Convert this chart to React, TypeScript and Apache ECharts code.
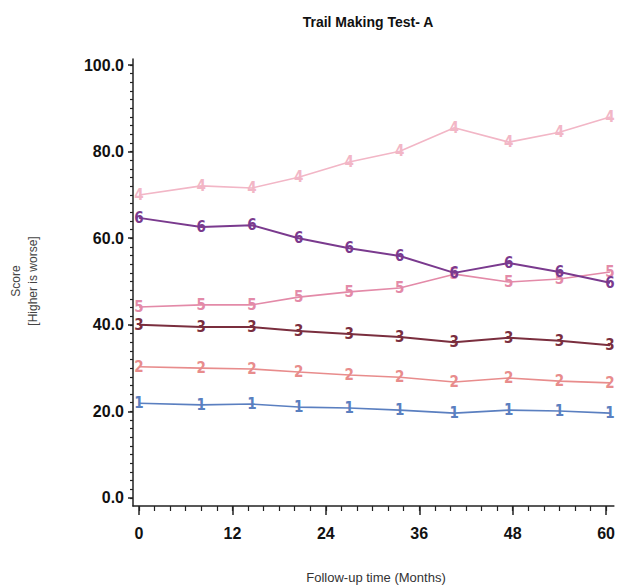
import React, { useEffect, useRef } from "react";
import * as echarts from "echarts";

const months = [0, 8, 14.5, 20.5, 27, 33.5, 40.5, 47.5, 54, 60.5];
const group1 = [21.9, 21.5, 21.7, 21.0, 20.8, 20.3, 19.6, 20.3, 20.1, 19.6];
const group2 = [30.3, 30.0, 29.8, 29.1, 28.4, 27.9, 26.8, 27.7, 27.0, 26.6];
const group3 = [40.0, 39.5, 39.5, 38.6, 37.9, 37.2, 36.0, 37.0, 36.3, 35.3];
const group4 = [70.0, 72.1, 71.6, 74.1, 77.6, 80.1, 85.5, 82.2, 84.5, 88.0];
const group5 = [44.1, 44.6, 44.6, 46.4, 47.6, 48.5, 51.7, 49.9, 50.6, 52.2];
const group6 = [64.7, 62.6, 63.0, 60.0, 57.7, 55.9, 52.0, 54.3, 52.2, 49.7];
const groupLabels = ["1", "2", "3", "4", "5", "6"];
const groupColors = ["#5a7fc0", "#e88c8c", "#7a2e3e", "#f2b6c6", "#e38aa8", "#7a3a8e"];
const yMajor = [0, 20, 40, 60, 80, 100];
const xMajor = [0, 12, 24, 36, 48, 60];

export default function App() {
  const ref = useRef<HTMLDivElement>(null);
  useEffect(() => {
    if (!ref.current) return;
    const chart = echarts.init(ref.current, null, { renderer: "svg" });
    const groups = [group1, group2, group3, group4, group5, group6];
    const yMinor: number[] = [];
    for (let v = 0; v <= 100; v += 2) yMinor.push(v);
    const xMinor: number[] = [];
    for (let v = 0; v <= 60; v += 2) xMinor.push(v);
    const font = "Liberation Sans";
    const series: any[] = groups.map((g, i) => ({
      type: "line",
      name: groupLabels[i],
      xAxisIndex: 0,
      yAxisIndex: 0,
      data: g.map((v, j) => [months[j], v]),
      symbol: "circle",
      symbolSize: 8,
      itemStyle: { color: "rgba(0,0,0,0)", borderWidth: 0 },
      lineStyle: { color: groupColors[i], width: i === 5 || i === 2 ? 2 : 1.6 },
      label: {
        show: true,
        position: "inside",
        formatter: groupLabels[i],
        color: groupColors[i],
        fontSize: 15,
        fontFamily: "DejaVu Sans Condensed",
        fontWeight: "bold",
      },
      labelLayout: { hideOverlap: false },
      z: 2 + i,
    }));
    chart.setOption({
      animation: false,
      grid: { left: 133, right: 1, top: 59, bottom: 82, containLabel: false },
      xAxis: [
        {
          type: "value",
          position: "bottom",
          min: -0.77,
          max: 61,
          axisLine: { show: true, onZero: false, lineStyle: { color: "#222", width: 1.5 } },
          axisTick: { show: true, customValues: xMajor, length: 9, lineStyle: { color: "#222", width: 1.5 } },
          axisLabel: { customValues: xMajor, margin: 19, color: "#111", fontSize: 16, fontWeight: "bold", fontFamily: font },
          splitLine: { show: false },
        },
        {
          type: "value",
          position: "bottom",
          min: -0.77,
          max: 61,
          axisLine: { show: false, onZero: false },
          axisTick: { show: true, customValues: xMinor, length: 5, lineStyle: { color: "#222", width: 1.2 } },
          axisLabel: { show: false },
          splitLine: { show: false },
        },
      ],
      yAxis: [
        {
          type: "value",
          position: "left",
          min: -1.85,
          max: 101.4,
          axisLine: { show: true, onZero: false, lineStyle: { color: "#222", width: 1.5 } },
          axisTick: { show: true, customValues: yMajor, length: 5, lineStyle: { color: "#222", width: 1.5 } },
          axisLabel: {
            customValues: yMajor,
            margin: 9,
            color: "#111",
            fontSize: 16,
            fontWeight: "bold",
            fontFamily: font,
            formatter: (v: number) => v.toFixed(1),
          },
          splitLine: { show: false },
        },
        {
          type: "value",
          position: "left",
          min: -1.85,
          max: 101.4,
          axisLine: { show: false, onZero: false },
          axisTick: { show: true, customValues: yMinor, length: 3, lineStyle: { color: "#222", width: 1.2 } },
          axisLabel: { show: false },
          splitLine: { show: false },
        },
      ],
      series,
      graphic: [
        {
          type: "text",
          x: 368,
          y: 22,
          style: {
            text: "Trail Making Test- A",
            fontSize: 14,
            fontWeight: "bold",
            fontFamily: font,
            fill: "#111",
            align: "center",
            verticalAlign: "middle",
          },
        },
        {
          type: "text",
          x: 376,
          y: 577,
          style: {
            text: "Follow-up time (Months)",
            fontSize: 13,
            fontFamily: font,
            fill: "#333",
            align: "center",
            verticalAlign: "middle",
          },
        },
        {
          type: "text",
          x: 24,
          y: 281,
          rotation: Math.PI / 2,
          style: {
            text: "Score\n[Higher is worse]",
            fontSize: 12,
            fontFamily: font,
            fill: "#444",
            align: "center",
            verticalAlign: "middle",
            lineHeight: 17,
          },
        },
      ],
    });
    return () => chart.dispose();
  }, []);
  return <div ref={ref} style={{ position: "fixed", left: 0, top: 0, width: 618, height: 588, background: "#fff" }} />;
}
